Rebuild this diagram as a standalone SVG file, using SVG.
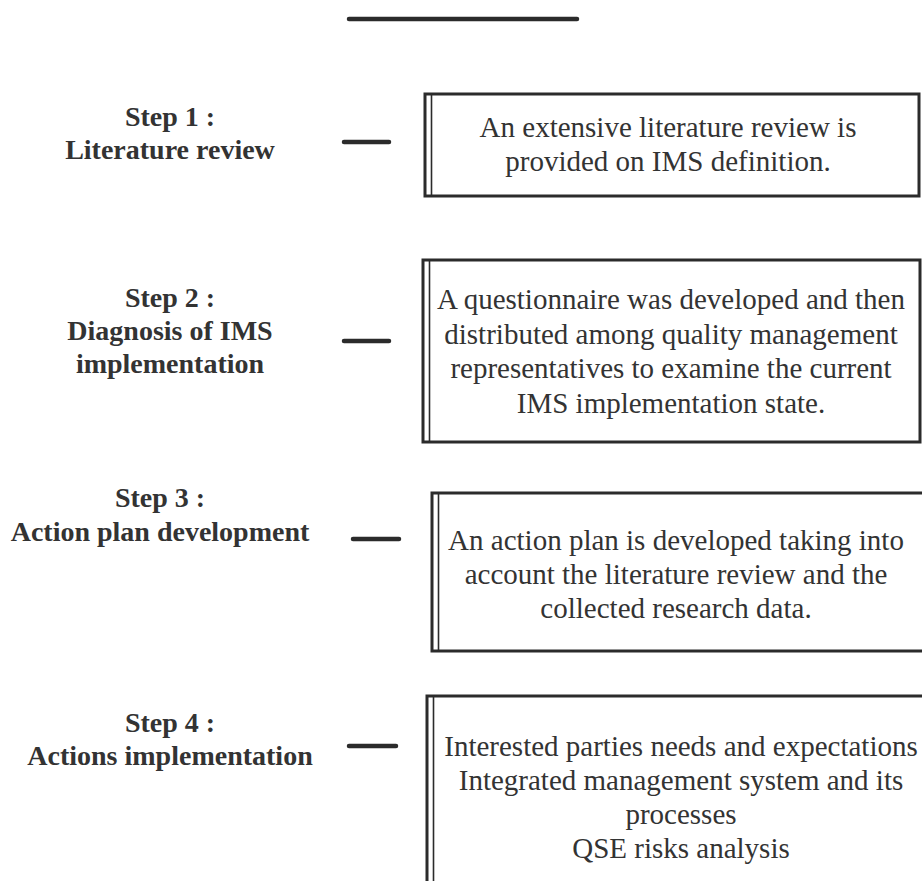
<svg xmlns="http://www.w3.org/2000/svg" width="922" height="881" viewBox="0 0 922 881">
  <style>
    .step { font-family: "Liberation Serif", "DejaVu Serif", serif; font-weight: bold; font-size: 28px; fill: #333; text-anchor: middle; }
    .body { font-family: "Liberation Serif", "Times New Roman", serif; font-size: 29px; fill: #333; text-anchor: middle; }
    .frame { fill: #fff; stroke: #2b2b2b; stroke-width: 3; }
    .inner { stroke: #2b2b2b; stroke-width: 1.6; }
    .dash { stroke: #2b2b2b; stroke-width: 4.5; stroke-linecap: round; }
  </style>
  <rect width="922" height="881" fill="#fff"/>

  <!-- title rule -->
  <line x1="349" y1="19" x2="577" y2="19" stroke="#2b2b2b" stroke-width="4.5" stroke-linecap="round"/>

  <!-- connectors between step labels and their boxes -->
  <g id="connectors">
    <line class="dash" x1="344" y1="142" x2="389" y2="142"/>
    <line class="dash" x1="344" y1="341" x2="389" y2="341"/>
    <line class="dash" x1="353" y1="539" x2="399" y2="539"/>
    <line class="dash" x1="349" y1="746" x2="396" y2="746"/>
  </g>

  <g id="step1">
    <text class="step" x="170" y="126">Step 1 :</text>
    <text class="step" x="170" y="159">Literature review</text>
  </g>
  <g id="box1">
    <rect class="frame" x="425" y="94" width="494" height="102"/>
    <line class="inner" x1="431.5" y1="94" x2="431.5" y2="196"/>
    <text class="body" x="668" y="137">An extensive literature review is</text>
    <text class="body" x="668" y="171">provided on IMS definition.</text>
  </g>

  <g id="step2">
    <text class="step" x="170" y="307">Step 2 :</text>
    <text class="step" x="170" y="340">Diagnosis of IMS</text>
    <text class="step" x="170" y="373">implementation</text>
  </g>
  <g id="box2">
    <rect class="frame" x="423" y="260" width="497" height="182"/>
    <line class="inner" x1="429.5" y1="260" x2="429.5" y2="442"/>
    <text class="body" x="671" y="309">A questionnaire was developed and then</text>
    <text class="body" x="671" y="344">distributed among quality management</text>
    <text class="body" x="671" y="378">representatives to examine the current</text>
    <text class="body" x="671" y="413">IMS implementation state.</text>
  </g>

  <g id="step3">
    <text class="step" x="160" y="507">Step 3 :</text>
    <text class="step" x="160" y="541">Action plan development</text>
  </g>
  <g id="box3">
    <rect class="frame" x="432" y="493" width="496" height="158"/>
    <line class="inner" x1="438.5" y1="493" x2="438.5" y2="651"/>
    <text class="body" x="676" y="550">An action plan is developed taking into</text>
    <text class="body" x="676" y="584">account the literature review and the</text>
    <text class="body" x="676" y="618">collected research data.</text>
  </g>

  <g id="step4">
    <text class="step" x="170" y="732">Step 4 :</text>
    <text class="step" x="170" y="765">Actions implementation</text>
  </g>
  <g id="box4">
    <rect class="frame" x="427" y="696" width="500" height="200"/>
    <line class="inner" x1="433.5" y1="696" x2="433.5" y2="896"/>
    <text class="body" x="681" y="756">Interested parties needs and expectations</text>
    <text class="body" x="681" y="790">Integrated management system and its</text>
    <text class="body" x="681" y="824">processes</text>
    <text class="body" x="681" y="858">QSE risks analysis</text>
  </g>
</svg>
